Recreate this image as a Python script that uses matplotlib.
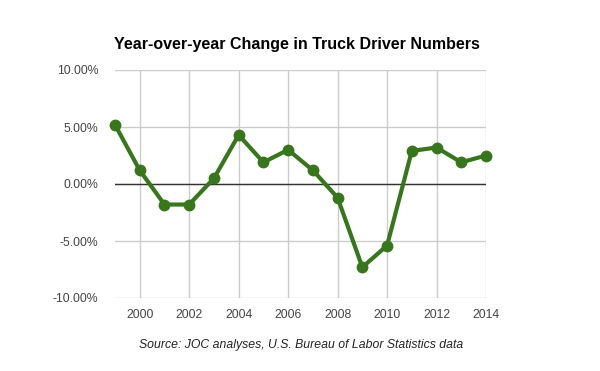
import numpy as np
import matplotlib.pyplot as plt

plt.rcParams['font.family'] = ['Liberation Sans', 'DejaVu Sans']

# datos
years = [1999, 2000, 2001, 2002, 2003, 2004, 2005, 2006, 2007, 2008,
         2009, 2010, 2011, 2012, 2013, 2014]
change = [5.2, 1.2, -1.8, -1.8, 0.5, 4.3, 1.9, 3.0, 1.2, -1.2,
          -7.3, -5.4, 2.9, 3.2, 1.9, 2.5]
yticks = [-10, -5, 0, 5, 10]
xticks = [2000, 2002, 2004, 2006, 2008, 2010, 2012, 2014]

fig = plt.figure(figsize=(6, 3.71), dpi=100)
ax = fig.add_axes([115/600, 1 - 298/371, (486 - 115)/600, (298 - 70)/371])

ax.set_xlim(1999, 2014)
ax.set_ylim(-10, 10)
ax.set_yticks(yticks)
ax.set_yticklabels(['%.2f%%' % v for v in yticks])
ax.set_xticks(xticks)

ax.grid(True, color='#cccccc', linewidth=1)
ax.set_axisbelow(True)
ax.axhline(0, color='#333333', linewidth=1, zorder=2)

for s in ax.spines.values():
    s.set_visible(False)
ax.tick_params(length=0, labelsize=8.8, colors='#444444')
ax.tick_params(axis='x', pad=8)
ax.tick_params(axis='y', pad=12)

ax.plot(years, change, color='#38761d', linewidth=3, marker='o',
        markersize=7.5, zorder=3, clip_on=False)

fig.text(297/600, 1 - 45/371, 'Year-over-year Change in Truck Driver Numbers',
         ha='center', va='center', fontsize=11.5, fontweight='bold')
fig.text(301/600, 1 - 345/371, 'Source: JOC analyses, U.S. Bureau of Labor Statistics data',
         ha='center', va='center', fontsize=8.8, style='italic', color='#222222')

fig.savefig('out.png', dpi=100)
